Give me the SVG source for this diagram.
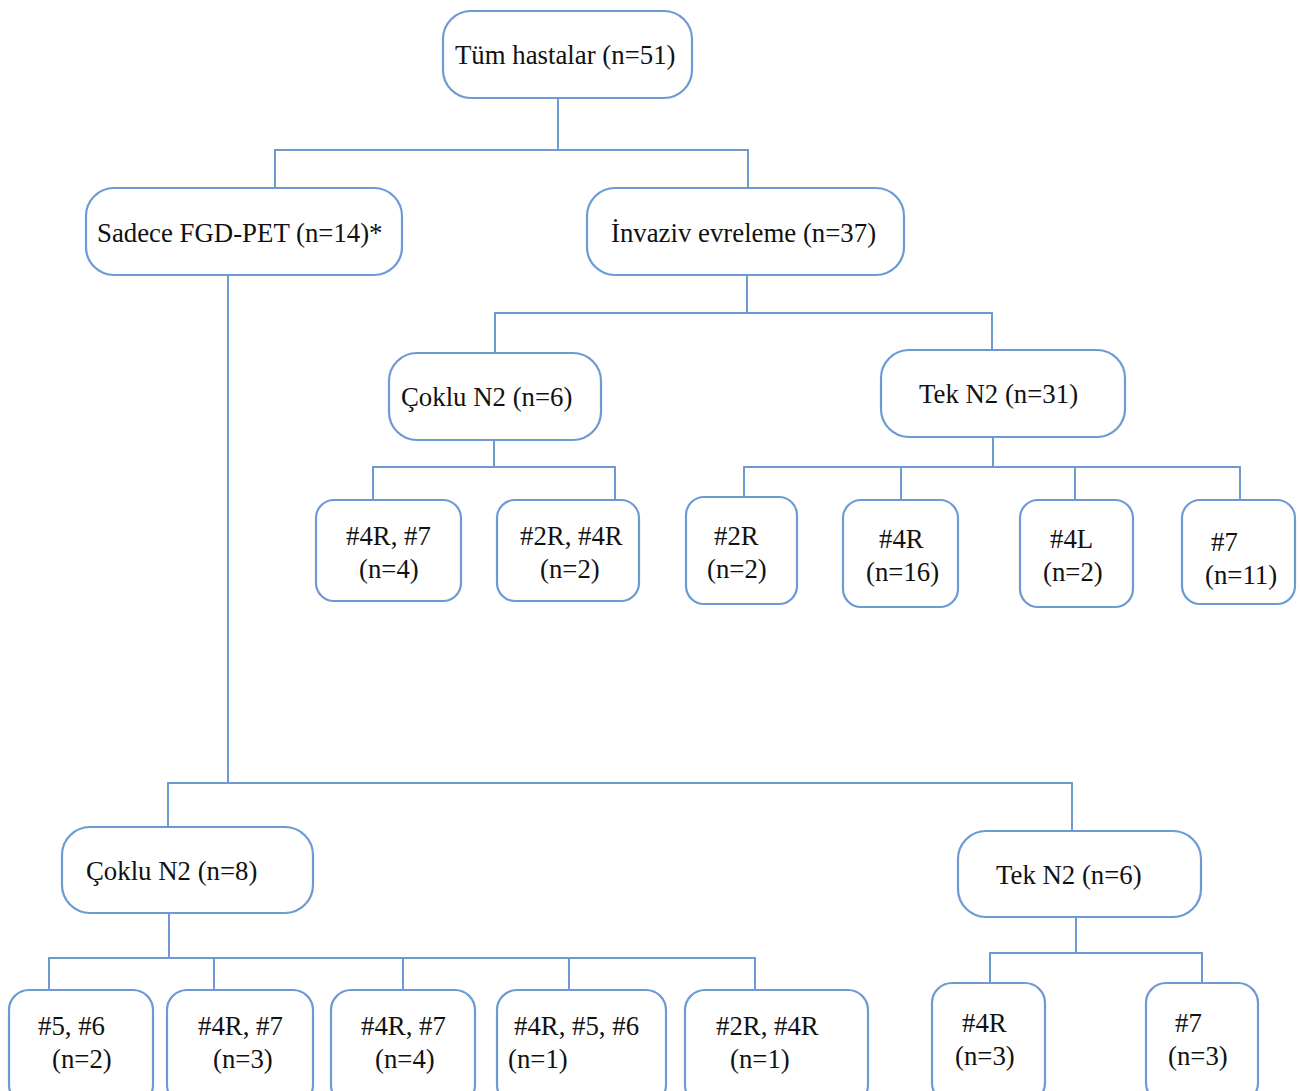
<svg xmlns="http://www.w3.org/2000/svg" width="1300" height="1091" viewBox="0 0 1300 1091">
<style>
.b{fill:#fff;stroke:#6d9ad4;stroke-width:2.2}
.c{fill:none;stroke:#6d9ad4;stroke-width:2}
text{font-family:"Liberation Serif","Times New Roman",serif;font-size:26.8px;fill:#111}
</style>
<rect width="1300" height="1091" fill="#fff"/>
<g id="connectors">
<path class="c" d="M558 98V150M275 188V150H748V188"/>
<path class="c" d="M747 275V313M495 353V313H992V350"/>
<path class="c" d="M494 440V467M373 500V467H615V500"/>
<path class="c" d="M993 437V467M744 497V467H1240V500M901 467V500M1075 467V500"/>
<path class="c" d="M228 275V783M168 827V783H1072V831"/>
<path class="c" d="M169 913V958M49 990V958H755V990M214 958V990M403 958V990M569 958V990"/>
<path class="c" d="M1076 917V953M990 983V953H1202V983"/>
</g>
<g id="n-tum"><rect class="b" x="443" y="11" width="249" height="87" rx="28"/><text x="455" y="64">Tüm hastalar (n=51)</text></g>
<g id="n-sadece"><rect class="b" x="86" y="188" width="316" height="87" rx="28"/><text x="97" y="242">Sadece FGD-PET (n=14)*</text></g>
<g id="n-invaziv"><rect class="b" x="587" y="188" width="317" height="87" rx="28"/><text x="611" y="242">İnvaziv evreleme (n=37)</text></g>
<g id="n-coklu6"><rect class="b" x="389" y="353" width="212" height="87" rx="28"/><text x="401" y="406">Çoklu N2 (n=6)</text></g>
<g id="n-tek31"><rect class="b" x="881" y="350" width="244" height="87" rx="28"/><text x="919" y="403">Tek N2 (n=31)</text></g>
<g id="n-a1"><rect class="b" x="316" y="500" width="145" height="101" rx="18"/><text x="346" y="545">#4R, #7</text><text x="359" y="578">(n=4)</text></g>
<g id="n-a2"><rect class="b" x="497" y="500" width="142" height="101" rx="18"/><text x="520" y="545">#2R, #4R</text><text x="540" y="578">(n=2)</text></g>
<g id="n-b1"><rect class="b" x="686" y="497" width="111" height="107" rx="18"/><text x="714" y="545">#2R</text><text x="707" y="578">(n=2)</text></g>
<g id="n-b2"><rect class="b" x="843" y="500" width="115" height="107" rx="18"/><text x="879" y="548">#4R</text><text x="866" y="581">(n=16)</text></g>
<g id="n-b3"><rect class="b" x="1020" y="500" width="113" height="107" rx="18"/><text x="1050" y="548">#4L</text><text x="1043" y="581">(n=2)</text></g>
<g id="n-b4"><rect class="b" x="1182" y="500" width="113" height="104" rx="18"/><text x="1211" y="551">#7</text><text x="1205" y="584">(n=11)</text></g>
<g id="n-coklu8"><rect class="b" x="62" y="827" width="251" height="86" rx="28"/><text x="86" y="880">Çoklu N2 (n=8)</text></g>
<g id="n-tek6"><rect class="b" x="958" y="831" width="243" height="86" rx="28"/><text x="996" y="884">Tek N2 (n=6)</text></g>
<g id="n-c1"><rect class="b" x="9" y="990" width="144" height="115" rx="20"/><text x="38" y="1035">#5, #6</text><text x="52" y="1068">(n=2)</text></g>
<g id="n-c2"><rect class="b" x="167" y="990" width="146" height="115" rx="20"/><text x="198" y="1035">#4R, #7</text><text x="213" y="1068">(n=3)</text></g>
<g id="n-c3"><rect class="b" x="331" y="990" width="144" height="115" rx="20"/><text x="361" y="1035">#4R, #7</text><text x="375" y="1068">(n=4)</text></g>
<g id="n-c4"><rect class="b" x="497" y="990" width="169" height="115" rx="20"/><text x="514" y="1035">#4R, #5, #6</text><text x="508" y="1068">(n=1)</text></g>
<g id="n-c5"><rect class="b" x="685" y="990" width="183" height="115" rx="20"/><text x="716" y="1035">#2R, #4R</text><text x="730" y="1068">(n=1)</text></g>
<g id="n-d1"><rect class="b" x="932" y="983" width="113" height="120" rx="20"/><text x="962" y="1032">#4R</text><text x="955" y="1065">(n=3)</text></g>
<g id="n-d2"><rect class="b" x="1146" y="983" width="112" height="120" rx="20"/><text x="1175" y="1032">#7</text><text x="1168" y="1065">(n=3)</text></g>
</svg>
